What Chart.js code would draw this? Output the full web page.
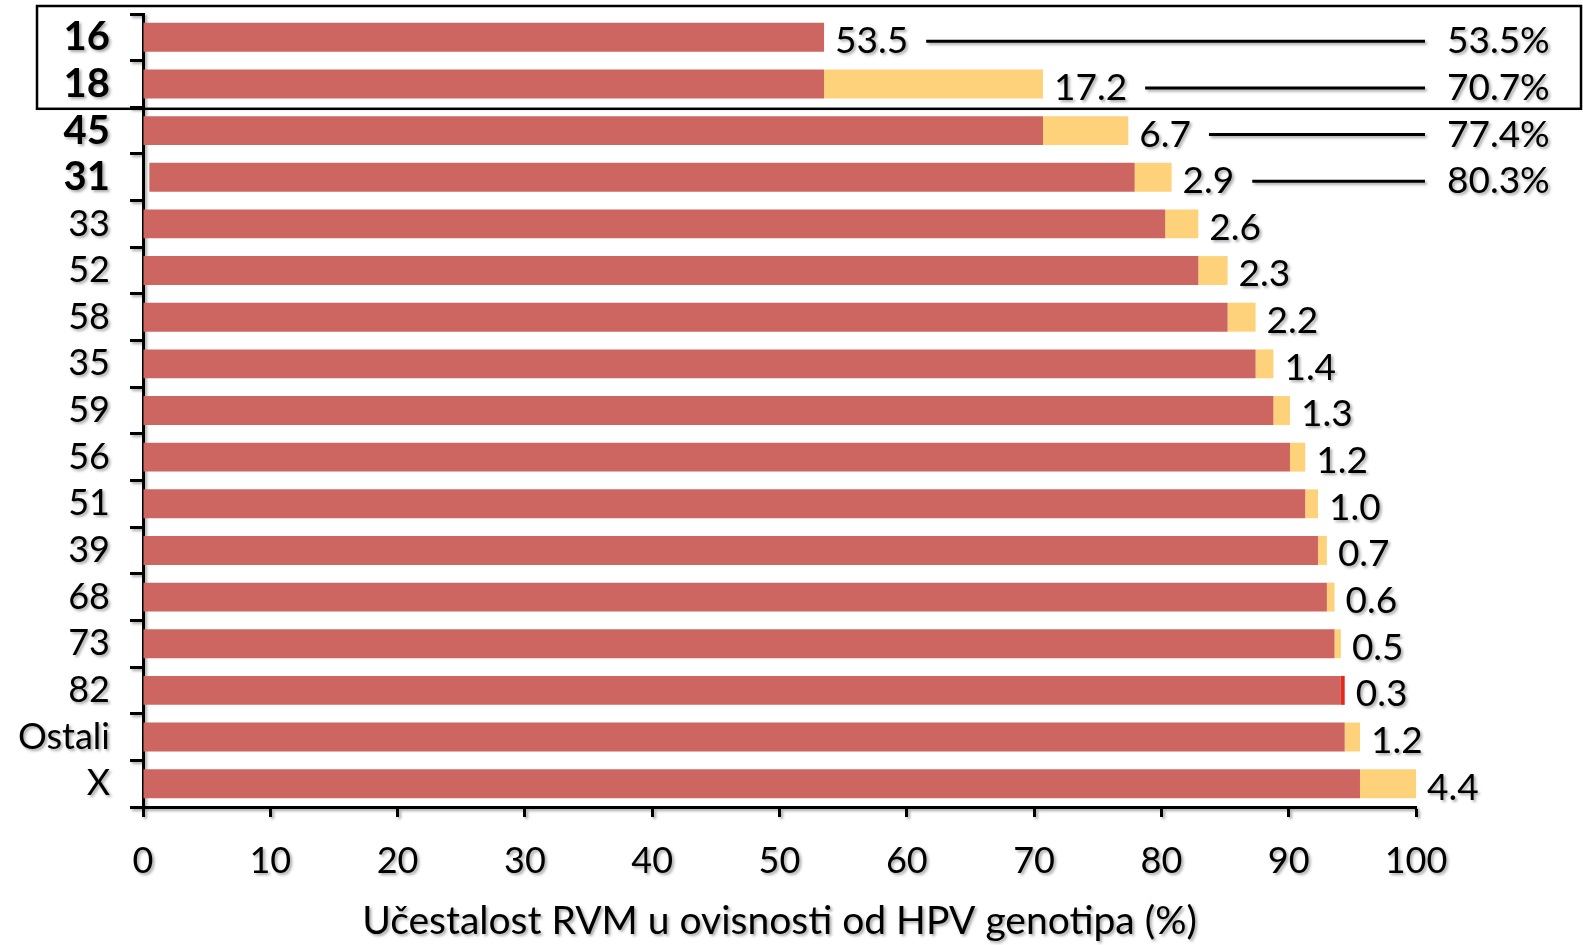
<!DOCTYPE html>
<html>
<head>
<meta charset="utf-8">
<script src="https://cdn.jsdelivr.net/npm/chart.js@4.4.1/dist/chart.umd.min.js"></script>
<style>
  html, body { margin: 0; padding: 0; background: #fff; }
  #wrap { width: 1583px; height: 945px; position: relative; }
</style>
</head>
<body>
<div id="wrap"><canvas id="chart"></canvas></div>
<script>
const genotypes = ["16", "18", "45", "31", "33", "52", "58", "35", "59", "56", "51", "39", "68", "73", "82", "Ostali", "X"];
// share of the genotype itself (label next to the bar)
const genotypeShare = [53.5, 17.2, 6.7, 2.9, 2.6, 2.3, 2.2, 1.4, 1.3, 1.2, 1.0, 0.7, 0.6, 0.5, 0.3, 1.2, 4.4];
// red part: share already covered (16 is drawn all red)
const priorShare = [53.5, 53.5, 70.7, 77.4, 80.3, 82.9, 85.2, 87.4, 88.8, 90.1, 91.3, 92.3, 93.0, 93.6, 94.1, 94.4, 95.6];
// yellow part: share added by this genotype
const addedShare = [0, 17.2, 6.7, 2.9, 2.6, 2.3, 2.2, 1.4, 1.3, 1.2, 1.0, 0.7, 0.6, 0.5, 0.3, 1.2, 4.4];
// the 31 bar is drawn slightly detached from the axis in the original
const barStart = [0, 0, 0, 0.5, 0, 0, 0, 0, 0, 0, 0, 0, 0, 0, 0, 0, 0];
const cumulativeLabels = ["53.5%", "70.7%", "77.4%", "80.3%"];
const boldCount = 4;
const xTicks = [0, 10, 20, 30, 40, 50, 60, 70, 80, 90, 100];

const colors = {
  red: "#CD6660",
  yellow: "#FED27B",
  redLine: "#E8261A",
};

const FONT = "Lato, 'Open Sans', sans-serif";

function setShadow(ctx) {
  ctx.shadowColor = "rgba(0,0,0,0.35)";
  ctx.shadowBlur = 3;
  ctx.shadowOffsetX = 2;
  ctx.shadowOffsetY = 2;
}

const annotations = {
  id: "annotations",
  beforeDraw(chart) {
    chart.ctx.save();
    setShadow(chart.ctx);
  },
  beforeDatasetsDraw(chart) {
    chart.ctx.restore();
  },
  afterDatasetsDraw(chart) {
    const ctx = chart.ctx;
    const area = chart.chartArea;
    const yScale = chart.scales.y;
    const bars = chart.getDatasetMeta(1).data;

    ctx.save();
    setShadow(ctx);
    ctx.font = "37px " + FONT;
    ctx.fillStyle = "#000";
    ctx.strokeStyle = "#000";
    ctx.lineWidth = 3;
    ctx.textBaseline = "middle";
    ctx.textAlign = "left";
    bars.forEach((bar, i) => {
      const text = genotypeShare[i].toFixed(1);
      const x = bar.x + 11;
      const y = bar.y + 4;
      ctx.fillText(text, x, y);
      if (i < cumulativeLabels.length) {
        const w = ctx.measureText(text).width;
        ctx.beginPath();
        ctx.moveTo(x + w + 18, y);
        ctx.lineTo(area.right + 9, y);
        ctx.stroke();
        ctx.fillText(cumulativeLabels[i], area.right + 31, y);
      }
    });
    ctx.restore();

    // frame round 16 and 18
    const split = (yScale.getPixelForValue(1) + yScale.getPixelForValue(2)) / 2 + 1.5;
    ctx.save();
    ctx.strokeStyle = "#000";
    ctx.lineWidth = 2.5;
    ctx.strokeRect(37, area.top - 8, chart.width - 39, split - (area.top - 8));
    ctx.restore();
  },
};

new Chart(document.getElementById("chart"), {
  type: "bar",
  data: {
    labels: genotypes,
    datasets: [
      {
        label: "prior",
        data: priorShare.map((v, i) => [barStart[i], barStart[i] + v]),
        backgroundColor: colors.red,
        grouped: false,
        barPercentage: 0.62,
        categoryPercentage: 1,
      },
      {
        label: "added",
        data: addedShare.map((v, i) => [barStart[i] + priorShare[i], barStart[i] + priorShare[i] + v]),
        backgroundColor: genotypes.map((g) => (g === "82" ? colors.redLine : colors.yellow)),
        grouped: false,
        barPercentage: 0.62,
        categoryPercentage: 1,
      },
    ],
  },
  options: {
    indexAxis: "y",
    responsive: true,
    maintainAspectRatio: false,
    animation: false,
    layout: { padding: { top: 14, right: 167, left: 0, bottom: 0 } },
    plugins: {
      legend: { display: false },
      tooltip: { enabled: false },
    },
    scales: {
      x: {
        min: 0,
        max: 100,
        afterFit: (scale) => {
          scale.height = 138;
          scale.paddingLeft = 0;
          scale.paddingRight = 0;
        },
        afterBuildTicks: (scale) => { scale.ticks = xTicks.map((v) => ({ value: v })); },
        grid: { drawOnChartArea: false, drawTicks: true, tickLength: 10, tickWidth: 3, tickColor: "#000" },
        border: { display: true, color: "#000", width: 3 },
        ticks: { color: "#000", padding: 23, font: { family: FONT, size: 36 } },
        title: {
          display: true,
          text: "Učestalost RVM u ovisnosti od HPV genotipa (%)",
          color: "#000",
          font: { family: FONT, size: 39 },
          padding: { top: 6, bottom: 0 },
        },
      },
      y: {
        afterFit: (scale) => {
          scale.width = 143;
          scale.paddingTop = 0;
          scale.paddingBottom = 0;
        },
        grid: { offset: true, drawOnChartArea: false, drawTicks: true, tickLength: 13, tickWidth: 3, tickColor: "#000" },
        border: { display: true, color: "#000", width: 3 },
        ticks: {
          color: "#000",
          padding: 20,
          autoSkip: false,
          font: (ctx) => ctx.index < boldCount
            ? { family: FONT, size: 40, weight: "bold" }
            : { family: FONT, size: 36, weight: "normal" },
        },
      },
    },
  },
  plugins: [annotations],
});
</script>
</body>
</html>
